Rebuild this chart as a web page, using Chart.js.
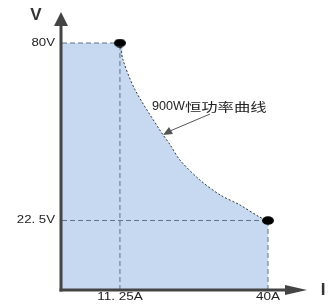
<!DOCTYPE html>
<html>
<head>
<meta charset="utf-8">
<script src="https://cdn.jsdelivr.net/npm/chart.js@4"></script>
<style>
  html, body { margin:0; padding:0; background:#fff; }
  #wrap { width:329px; height:304px; position:relative; }
</style>
</head>
<body>
<div id="wrap"><canvas id="chart"></canvas></div>
<script>
    // ─── Data ────────────────────────────────────────────────────────
    const curveI = [11.25, 11.85, 14.2, 19.0, 21.0, 22.9, 26.8, 30.7, 34.6, 38.4, 40];
    const curveV = [80, 74.5, 64.8, 51.8, 47.0, 42.1, 35.6, 30.8, 27.5, 23.6, 22.5];
    const cornerI = [11.25, 40];
    const cornerV = [80, 22.5];
    const xTickValues = [11.25, 40];
    const xTickLabels = ['11. 25A', '40A'];
    const yTickValues = [80, 22.5];
    const yTickLabels = ['80V', '22. 5V'];
    const curveLabelA = '900W';
    const curveLabelB = '恒功率曲线';

    const AXIS = '#444';
    const DASH = '#5f7288';
    const FONT = '"Liberation Sans", Arial, sans-serif';

    // area under the curve: flat 80V from 0 up to the first corner
    const areaPts = [{x:0, y:cornerV[0]}].concat(curveI.map((v,i)=>({x:v, y:curveV[i]})));
    const curvePts = curveI.map((v,i)=>({x:v, y:curveV[i]}));

    function dashed(pts, color, dash) {
        return { data: pts, borderColor: color, borderWidth: 1, borderDash: dash,
                 pointRadius: 0, fill: false, tension: 0, clip: false, order: 1 };
    }

    // flattened black dot used for the two corner points
    const dot = document.createElement('canvas');
    dot.width = 12; dot.height = 9;
    (c => { c.fillStyle = '#000'; c.beginPath(); c.ellipse(6, 4.5, 6, 4.3, 0, 0, Math.PI*2); c.fill(); })(dot.getContext('2d'));

    // the reference text is stretched sideways
    function wideText(ctx, txt, x, y, align, sx) {
        const w = ctx.measureText(txt).width * sx;
        let left = x;
        if (align === 'right') left = x - w;
        else if (align === 'center') left = x - w / 2;
        ctx.save();
        ctx.translate(left, y);
        ctx.scale(sx, 1);
        ctx.textAlign = 'left';
        ctx.fillText(txt, 0, 0);
        ctx.restore();
        return w;
    }

    const axesPlugin = {
        id: 'axes',
        afterDatasetsDraw(chart) {
            const ctx = chart.ctx;
            const sx = chart.scales.x, sy = chart.scales.y;
            const x0 = sx.getPixelForValue(0) - 1, y0 = sy.getPixelForValue(0);
            ctx.save();
            ctx.strokeStyle = AXIS; ctx.fillStyle = AXIS; ctx.lineWidth = 3;
            // y axis + arrow
            ctx.beginPath(); ctx.moveTo(x0, y0 + 1.5); ctx.lineTo(x0, 24); ctx.stroke();
            ctx.beginPath(); ctx.moveTo(x0, 12); ctx.lineTo(x0 - 7, 26); ctx.lineTo(x0 + 7, 26); ctx.closePath(); ctx.fill();
            // x axis + arrow
            ctx.beginPath(); ctx.moveTo(x0 - 1.5, y0); ctx.lineTo(290, y0); ctx.stroke();
            ctx.beginPath(); ctx.moveTo(307, y0); ctx.lineTo(285, y0 - 5); ctx.lineTo(285, y0 + 5); ctx.closePath(); ctx.fill();

            // axis names
            ctx.fillStyle = '#333';
            ctx.font = 'bold 17px ' + FONT;
            ctx.textAlign = 'center'; ctx.textBaseline = 'middle';
            ctx.fillText('V', 36, 15);
            ctx.fillText('I', 323, 290);

            // tick labels
            ctx.font = '10px ' + FONT;
            ctx.fillStyle = '#222';
            ctx.textBaseline = 'middle';
            yTickValues.forEach((v,i) => wideText(ctx, yTickLabels[i], 55, sy.getPixelForValue(v), 'right', 1.32));
            ctx.textBaseline = 'top';
            xTickValues.forEach((v,i) => wideText(ctx, xTickLabels[i], sx.getPixelForValue(v), 292, 'center', 1.35));

            // curve annotation + pointer
            ctx.textBaseline = 'middle';
            ctx.font = '12px ' + FONT;
            const wA = wideText(ctx, curveLabelA, 152, 107, 'left', 1.05);
            ctx.font = '12px "Noto Sans CJK SC", sans-serif';
            wideText(ctx, curveLabelB, 152 + wA, 107, 'left', 1.36);
            ctx.strokeStyle = '#555'; ctx.fillStyle = '#555'; ctx.lineWidth = 1;
            ctx.beginPath(); ctx.moveTo(210, 114); ctx.lineTo(170, 131); ctx.stroke();
            ctx.beginPath(); ctx.moveTo(163, 135); ctx.lineTo(169, 127); ctx.lineTo(173, 134); ctx.closePath(); ctx.fill();
            ctx.restore();
        }
    };

    new Chart(document.getElementById('chart'), {
        type: 'line',
        data: {
            datasets: [
                { data: areaPts, borderWidth: 0, pointRadius: 0, fill: 'origin',
                  backgroundColor: '#c6d9f0', tension: 0.3, order: 5 },
                dashed([{x:0,y:cornerV[0]},{x:cornerI[0],y:cornerV[0]}], DASH, [5,3]),
                dashed([{x:cornerI[0],y:0},{x:cornerI[0],y:cornerV[0]}], DASH, [5,3]),
                dashed([{x:0,y:cornerV[1]},{x:cornerI[1],y:cornerV[1]}], DASH, [5,3]),
                dashed([{x:cornerI[1],y:0},{x:cornerI[1],y:cornerV[1]}], DASH, [5,3]),
                Object.assign(dashed(curvePts, '#333', [2,2]), { tension: 0.3 }),
                { data: cornerI.map((v,i)=>({x:v, y:cornerV[i]})), showLine: false, order: 0,
                  pointStyle: dot, clip: false }
            ]
        },
        options: {
            responsive: true, maintainAspectRatio: false, animation: false,
            layout: { padding: { left: 62, right: 61, top: 43, bottom: 14 } },
            plugins: { legend: { display: false }, tooltip: { enabled: false } },
            scales: {
                x: { type: 'linear', min: 0, max: 40, display: false },
                y: { type: 'linear', min: 0, max: 80, display: false }
            }
        },
        plugins: [axesPlugin]
    });
</script>
</body>
</html>
